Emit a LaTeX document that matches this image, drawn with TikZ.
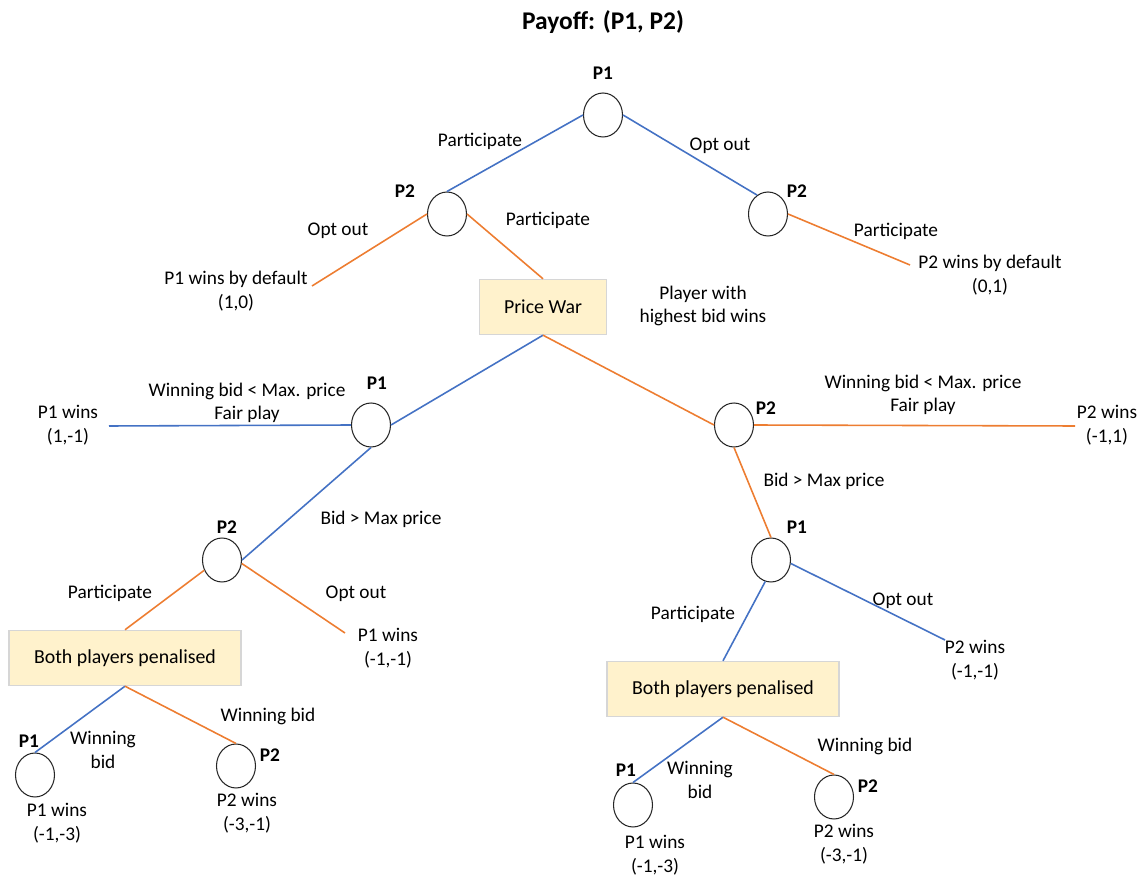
\documentclass[tikz,border=0pt]{standalone}
\usepackage{fontspec}
\setmainfont{Carlito}
\usetikzlibrary{shapes.geometric}
\definecolor{bl}{HTML}{4472C4}
\definecolor{org}{HTML}{ED7D31}
\definecolor{boxfill}{HTML}{FFF2CC}
\definecolor{boxline}{HTML}{D6D6D6}
\begin{document}
\begin{tikzpicture}[x=0.02cm,y=-0.02cm,
  font=\fontsize{11}{13.4}\selectfont,
  decision/.style={draw=black!85, ellipse, minimum width=7.8mm, minimum height=8.8mm, inner sep=0pt, line width=0.6pt},
  outcome/.style={draw=boxline, fill=boxfill, line width=0.8pt, inner sep=0pt, font=\fontsize{11.3}{13.4}\selectfont},
  pl/.style={font=\fontsize{11}{13.4}\selectfont\bfseries, inner sep=0pt},
  lbl/.style={align=center, inner sep=0pt},
  blueedge/.style={draw=bl, line width=0.9pt},
  orangeedge/.style={draw=org, line width=0.9pt}]
\useasboundingbox (0,0) rectangle (1147,878);

% title
\node[font=\fontsize{14.5}{17}\selectfont\bfseries] (title) at (603,22) {Payoff: (P1, P2)};

% decision nodes
\node[decision] (root) at (603,115) {};
\node[decision] (p2a) at (447,214) {};
\node[decision] (p2b) at (768,214) {};
\node[decision] (p1c) at (371,425) {};
\node[decision] (p2d) at (734,425) {};
\node[decision] (p2e) at (222,560) {};
\node[decision] (p1f) at (771,560) {};
\node[decision] (l1) at (35,775) {};
\node[decision] (l2) at (236,766) {};
\node[decision] (r1) at (633,805) {};
\node[decision] (r2) at (834,797) {};

% outcome boxes
\node[outcome, minimum width=2.54cm, minimum height=1.1cm] (pw) at (543,307) {Price War};
\node[outcome, minimum width=4.64cm, minimum height=1.1cm] (bothL) at (125,658) {Both players penalised};
\node[outcome, minimum width=4.64cm, minimum height=1.1cm] (bothR) at (723,689) {Both players penalised};

% free ends
\coordinate (e1) at (312,286);
\coordinate (e2) at (910,265);
\coordinate (e3) at (109,426);
\coordinate (e4) at (345,633);
\coordinate (e5) at (1075,426);
\coordinate (e6) at (945,640);

% branches
\draw[blueedge] (root.west) -- (p2a.north);
\draw[blueedge] (root.east) -- (p2b.120);
\draw[orangeedge] (p2a.west) -- (e1);
\draw[orangeedge] (p2a.east) -- (pw.north);
\draw[orangeedge] (p2b.east) -- (e2);
\draw[blueedge] (pw.south) -- (p1c.east);
\draw[orangeedge] (pw.south) -- (p2d.west);
\draw[blueedge] (p1c.west) -- (e3);
\draw[blueedge] (p1c.south) -- (p2e.east);
\draw[orangeedge] (p2e.210) -- (bothL.north);
\draw[orangeedge] (p2e.-10) -- (e4);
\draw[orangeedge] (p2d.east) -- (e5);
\draw[orangeedge] (p2d.south) -- (p1f.north);
\draw[blueedge] (p1f.255) -- (bothR.north);
\draw[blueedge] (p1f.-10) -- (e6);
\draw[blueedge] (bothL.south) -- (l1.north);
\draw[orangeedge] (bothL.south) -- (l2.north);
\draw[blueedge] (bothR.south) -- (r1.north);
\draw[orangeedge] (bothR.south) -- (r2.north);

% player labels
\node[pl] (tRoot) at (603,73) {P1};
\node[pl] (tP2a) at (405,191) {P2};
\node[pl] (tP2b) at (797,191) {P2};
\node[pl] (tP1c) at (377,383) {P1};
\node[pl] (tP2d) at (766,408) {P2};
\node[pl] (tP2e) at (227,527) {P2};
\node[pl] (tP1f) at (797,527) {P1};
\node[pl] (tL1) at (29,741) {P1};
\node[pl] (tL2) at (270,755) {P2};
\node[pl] (tR1) at (626,770) {P1};
\node[pl] (tR2) at (868,786) {P2};

% branch labels and payoffs
\node[lbl] (a1) at (480,141) {Participate};
\node[lbl] (a2) at (720,146) {Opt out};
\node[lbl] (a3) at (338,231) {Opt out};
\node[lbl] (a4) at (548,220) {Participate};
\node[lbl] (a5) at (236,291) {P1 wins by default\\(1,0)};
\node[lbl] (a6) at (896,231) {Participate};
\node[lbl] (a7) at (990,275) {P2 wins by default\\(0,1)};
\node[lbl] (a8) at (703,306) {Player with\\highest bid wins};
\node[lbl] (a9) at (247,403) {Winning bid < Max. price\\Fair play};
\node[lbl] (a10) at (68,425) {P1 wins\\(1,-1)};
\node[lbl] (a11) at (381,519) {Bid > Max price};
\node[lbl] (a12) at (923,395) {Winning bid < Max. price\\Fair play};
\node[lbl] (a13) at (1107,425) {P2 wins\\(-1,1)};
\node[lbl] (a14) at (824,481) {Bid > Max price};
\node[lbl] (a15) at (110,593) {Participate};
\node[lbl] (a16) at (356,594) {Opt out};
\node[lbl] (a17) at (388,648) {P1 wins\\(-1,-1)};
\node[lbl] (a18) at (693,614) {Participate};
\node[lbl] (a19) at (903,601) {Opt out};
\node[lbl] (a20) at (975,660) {P2 wins\\(-1,-1)};
\node[lbl] (a21) at (103,750) {Winning\\bid};
\node[lbl] (a22) at (268,716) {Winning bid};
\node[lbl] (a23) at (57,823) {P1 wins\\(-1,-3)};
\node[lbl] (a24) at (247,813) {P2 wins\\(-3,-1)};
\node[lbl] (a25) at (700,780) {Winning\\bid};
\node[lbl] (a26) at (865,746) {Winning bid};
\node[lbl] (a27) at (655,855) {P1 wins\\(-1,-3)};
\node[lbl] (a28) at (844,844) {P2 wins\\(-3,-1)};
\end{tikzpicture}
\end{document}
